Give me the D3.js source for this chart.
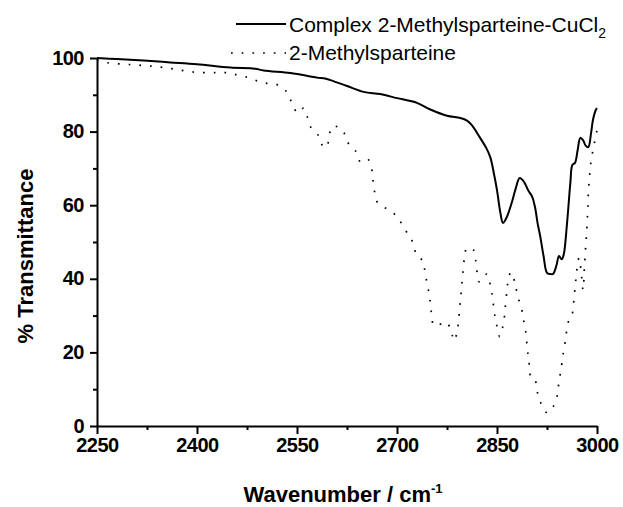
<!DOCTYPE html>
<html>
<head>
<meta charset="utf-8">
<script src="https://cdn.jsdelivr.net/npm/d3@7"></script>
<style>
  body { margin: 0; background: #fff; }
  svg { display: block; font-family: 'Liberation Sans', Arial, sans-serif; }
</style>
</head>
<body>
<div id="chart"></div>
<script>
// complex 2-methylsparteine-CuCl2 (solid)
const complexWave = [2250, 2280, 2320, 2360, 2400, 2450, 2487, 2500, 2540, 2570, 2582, 2590, 2600, 2625, 2650,
  2675, 2700, 2730, 2750, 2775, 2795, 2805, 2812, 2824, 2834, 2840, 2846, 2850, 2855, 2859, 2864, 2872, 2878,
  2884, 2890, 2897, 2903, 2907, 2911, 2915, 2920, 2925, 2930, 2934, 2939, 2943, 2947, 2950, 2955, 2960, 2963,
  2967, 2971, 2975, 2979, 2983, 2987, 2991, 2994, 2998, 3000];
const complexTrans = [100, 99.7, 99.3, 98.8, 98.3, 97.4, 97.1, 96.6, 95.9, 95.0, 94.6, 94.5, 94.0, 92.4, 90.8,
  90.2, 89.1, 87.8, 86.0, 84.3, 83.7, 83.0, 81.8, 78.5, 75.5, 73.0, 68, 64.1, 58, 55.2, 56.5, 60.6, 64.5,
  67.4, 66.5, 64, 62.2, 59.5, 55, 51.4, 46, 41.6, 41.3, 41.3, 43.5, 46.2, 45.3, 46.5, 55, 66, 70.9,
  71.5, 75, 78.3, 77.7, 76.2, 75.8, 79.5, 83.2, 85.8, 86.4];

// 2-methylsparteine (dotted)
const methylWave = [2250, 2266, 2300, 2331, 2362, 2394, 2427, 2444, 2458, 2475, 2490, 2505, 2521, 2535, 2542,
  2551, 2560, 2566, 2572, 2584, 2589, 2595, 2598, 2604, 2619, 2625, 2637, 2643, 2655, 2662, 2664, 2666, 2669,
  2679, 2688, 2700, 2709, 2718, 2725, 2729, 2739, 2742, 2745, 2748, 2750, 2752, 2755, 2762, 2773, 2781, 2785,
  2790, 2792, 2795, 2798, 2801, 2805, 2815, 2818, 2820, 2823, 2829, 2835, 2840, 2843, 2845, 2847, 2850, 2854,
  2857, 2860, 2862, 2865, 2867, 2871, 2877, 2880, 2889, 2891, 2894, 2895, 2897, 2899, 2901, 2907, 2910, 2915,
  2925, 2934, 2940, 2942, 2947, 2949, 2952, 2954, 2957, 2962, 2964, 2965.5, 2967, 2968.5, 2970, 2973, 2976,
  2977.5, 2979, 2980.5, 2981, 2982, 2983, 2984, 2985, 2986, 2986.5, 2987, 2988, 2989.5, 2991, 2994, 2997, 3000];
const methylTrans = [99.5, 98.7, 98.2, 97.8, 97.1, 96.2, 96.0, 96.0, 95.5, 94.8, 93.8, 93.1, 92.7, 90.7, 87.9,
  85.1, 86.4, 83.7, 80.7, 78.6, 75.9, 75.9, 78.8, 81.5, 80.2, 77.3, 75.0, 72.1, 72.8, 69.8, 66.8, 64.1, 61.2,
  59.6, 58.7, 56.9, 54.3, 51.6, 49.5, 46.5, 44.8, 41.8, 38.9, 36.1, 33.4, 30.2, 27.4, 27.4, 28.3, 26.1, 23.2,
  25.3, 28.1, 33.8, 39.9, 45.4, 48.4, 47.8, 45.1, 41.9, 39.2, 40.2, 41.3, 38.3, 35.3, 32.4, 29.7, 27.0, 24.3,
  25.9, 28.0, 31.5, 37.0, 39.9, 41.8, 38.9, 36.1, 30.2, 27.4, 24.7, 21.7, 18.8, 15.8, 13.0, 12.5, 9.6, 6.6,
  3.6, 5.2, 8.0, 10.7, 16.6, 19.3, 22.6, 25.3, 28.3, 29.7, 31.8, 34.5, 37.5, 40.2, 42.7, 45.7, 42.4,
  39.4, 37.0, 40.2, 42.9, 45.7, 48.8, 51.4, 54.6, 57.9, 60.6, 63.3, 66.0, 69.1, 71.8, 75.0, 77.7, 80.4];

const xTicks = [2250, 2400, 2550, 2700, 2850, 3000];
const xMinor = [2325, 2475, 2625, 2775, 2925];
const yTicks = [0, 20, 40, 60, 80, 100];
const yMinor = [10, 30, 50, 70, 90];

const width = 623,
  height = 507;
const margin = { left: 97, right: 26, top: 58, bottom: 81 };

const svg = d3.select('#chart').append('svg').attr('width', width).attr('height', height);

const x = d3.scaleLinear().domain([2250, 3000]).range([margin.left, width - margin.right]);
const y = d3.scaleLinear().domain([0, 100]).range([height - margin.bottom, margin.top]);

const complex = complexWave.map((w, i) => ({ w, t: complexTrans[i] }));
const methyl = methylWave.map((w, i) => ({ w, t: methylTrans[i] }));

const line = d3
  .line()
  .x((d) => x(d.w))
  .y((d) => y(d.t))
  .curve(d3.curveCatmullRom.alpha(0.5));

svg
  .append('path')
  .datum(methyl)
  .attr('fill', 'none')
  .attr('stroke', '#000')
  .attr('stroke-width', 1.7)
  .attr('stroke-dasharray', '1.7,9')
  .attr('d', line);

svg
  .append('path')
  .datum(complex)
  .attr('fill', 'none')
  .attr('stroke', '#000')
  .attr('stroke-width', 2)
  .attr('d', line);

// minor ticks first, then the main axes on top
svg
  .append('g')
  .attr('transform', `translate(0,${y(0)})`)
  .call(d3.axisBottom(x).tickValues(xMinor).tickSize(4).tickFormat(''))
  .call((g) => g.select('.domain').remove())
  .selectAll('line')
  .attr('stroke-width', 2);

svg
  .append('g')
  .attr('transform', `translate(${x(2250)},0)`)
  .call(d3.axisLeft(y).tickValues(yMinor).tickSize(4).tickFormat(''))
  .call((g) => g.select('.domain').remove())
  .selectAll('line')
  .attr('stroke-width', 2);

const xAxis = svg
  .append('g')
  .attr('transform', `translate(0,${y(0)})`)
  .call(
    d3.axisBottom(x).tickValues(xTicks).tickFormat(d3.format('d')).tickSize(8).tickSizeOuter(0).tickPadding(4)
  );

const yAxis = svg
  .append('g')
  .attr('transform', `translate(${x(2250)},0)`)
  .call(
    d3.axisLeft(y).tickValues(yTicks).tickFormat(d3.format('d')).tickSize(7).tickSizeOuter(0).tickPadding(6)
  );

[xAxis, yAxis].forEach((g) => {
  g.select('.domain').attr('stroke-width', 2);
  g.selectAll('.tick line').attr('stroke-width', 2);
  g.selectAll('text')
    .attr('font-family', "'Liberation Sans', Arial, sans-serif")
    .attr('font-size', 20)
    .attr('font-weight', 'bold')
    .attr('letter-spacing', -0.5)
    .attr('fill', '#000');
});
yAxis.selectAll('text').attr('dy', '0.3em');

// axis titles
const xTitle = svg
  .append('text')
  .attr('x', 343)
  .attr('y', 502)
  .attr('text-anchor', 'middle')
  .attr('font-size', 22)
  .attr('font-weight', 'bold');
xTitle.append('tspan').text('Wavenumber / cm');
xTitle.append('tspan').attr('dy', -9).attr('font-size', 13).text('-1');

svg
  .append('text')
  .attr('transform', 'translate(33,256) rotate(-90)')
  .attr('text-anchor', 'middle')
  .attr('font-size', 22)
  .attr('font-weight', 'bold')
  .text('% Transmittance');

// legend
const legend = svg.append('g');
legend
  .append('line')
  .attr('x1', 236)
  .attr('x2', 286)
  .attr('y1', 24)
  .attr('y2', 24)
  .attr('stroke', '#000')
  .attr('stroke-width', 2);
const lab1 = legend.append('text').attr('x', 289).attr('y', 32).attr('font-size', 21);
lab1.append('tspan').text('Complex 2-Methylsparteine-CuCl');
lab1.append('tspan').attr('dy', 6).attr('font-size', 14).text('2');

legend
  .append('line')
  .attr('x1', 231)
  .attr('x2', 286)
  .attr('y1', 53)
  .attr('y2', 53)
  .attr('stroke', '#000')
  .attr('stroke-width', 1.7)
  .attr('stroke-dasharray', '1.7,9');
legend.append('text').attr('x', 289).attr('y', 60).attr('font-size', 21).text('2-Methylsparteine');
</script>
</body>
</html>
